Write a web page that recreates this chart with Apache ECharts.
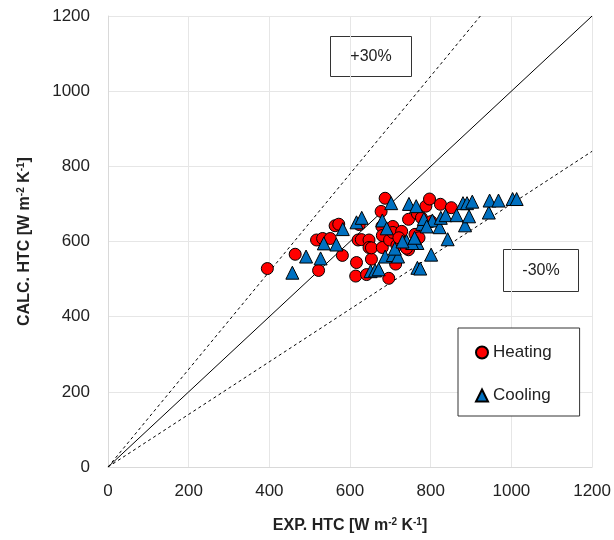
<!DOCTYPE html>
<html><head><meta charset="utf-8">
<script src="https://cdn.jsdelivr.net/npm/echarts@6/dist/echarts.min.js"></script>
<style>html,body{margin:0;padding:0;background:#fff}#c{width:614px;height:540px}</style>
</head><body><div id="c"></div>
<script>
const heatingX = [395,464,522,517,532,551,563,572,581,616,614,623,620,628,647,641,653,647,653,677,687,679,680,680,696,698,706,706,713,716,728,721,745,745,740,761,767,777,788,797,801,824,851,771];
const heatingY = [528,566,523,604,608,608,642,646,563,544,508,645,604,605,604,512,553,584,583,680,715,640,616,584,502,604,640,624,540,590,627,610,659,578,582,619,674,663,694,713,653,699,690,610];
const coolingX = [457,491,527,535,566,582,616,629,651,662,671,680,687,702,706,719,740,746,767,767,774,779,783,801,804,822,825,837,842,864,880,885,890,895,903,944,946,968,1003,1013,711,754,764,691,730,760,790];
const coolingY = [517,560,555,595,592,633,651,663,521,523,526,656,560,702,564,560,601,700,596,530,528,647,660,565,656,638,663,670,606,670,702,643,702,667,706,677,709,709,713,713,581,596,694,635,600,610,640];
const axisMin = 0, axisMax = 1200, axisStep = 200;
const refFactors = [1.0, 1.3, 0.7];
const seriesNames = ['Heating', 'Cooling'];
const xTitle = 'EXP. HTC [W m{s|-2} K{s|-1}]';
const yTitle = 'CALC. HTC [W m{s|-2} K{s|-1}]';

function refLine(f){
  const xe = Math.min(axisMax, axisMax / f);
  return [[0,0],[xe, xe*f]];
}
const font = 'Liberation Sans, Arial, sans-serif';
const chart = echarts.init(document.getElementById('c'));
chart.setOption({
  animation:false,
  textStyle:{fontFamily:font},
  grid:{left:108, right:20, top:16, bottom:73, containLabel:false},
  xAxis:{type:'value', min:axisMin, max:axisMax, interval:axisStep,
    axisLine:{show:true, lineStyle:{color:'#d9d9d9'}}, axisTick:{show:false},
    splitLine:{show:true, lineStyle:{color:'#e6e6e6', width:1}},
    axisLabel:{color:'#222', fontSize:17, fontFamily:font, margin:16, formatter:v=>String(v)},
    name:xTitle, nameLocation:'middle', nameGap:50,
    nameTextStyle:{color:'#222', fontSize:16, fontWeight:'bold', fontFamily:font,
      rich:{s:{fontSize:10, fontWeight:'bold', verticalAlign:'top', padding:[0,0,8,0], fontFamily:font}}}
  },
  yAxis:{type:'value', min:axisMin, max:axisMax, interval:axisStep,
    axisLine:{show:true, lineStyle:{color:'#d9d9d9'}}, axisTick:{show:false},
    splitLine:{show:true, lineStyle:{color:'#e6e6e6', width:1}},
    axisLabel:{color:'#222', fontSize:17, fontFamily:font, margin:18, formatter:v=>String(v)},
    name:yTitle, nameLocation:'middle', nameGap:74, nameRotate:90,
    nameTextStyle:{color:'#222', fontSize:16, fontWeight:'bold', fontFamily:font,
      rich:{s:{fontSize:10, fontWeight:'bold', verticalAlign:'top', padding:[0,0,8,0], fontFamily:font}}}
  },
  legend:{orient:'vertical', left:458, top:328, data:seriesNames,
    borderColor:'#333', borderWidth:1, padding:[16,28,12,17], itemGap:26,
    itemWidth:12, itemHeight:12, backgroundColor:'#fff',
    textStyle:{fontSize:17, color:'#222', fontFamily:font, padding:[0,0,0,0]}},
  graphic:[
    {type:'group', left:330, top:36, children:[
      {type:'rect', shape:{x:0,y:0,width:81,height:40}, style:{fill:'#fff', stroke:'#333', lineWidth:1}},
      {type:'text', style:{text:'+30%', x:40.5, y:20, textAlign:'center', textVerticalAlign:'middle', font:'16px '+font, fill:'#222'}}
    ]},
    {type:'group', left:503, top:249, children:[
      {type:'rect', shape:{x:0,y:0,width:75,height:42}, style:{fill:'#fff', stroke:'#333', lineWidth:1}},
      {type:'text', style:{text:'-30%', x:37.5, y:21, textAlign:'center', textVerticalAlign:'middle', font:'16px '+font, fill:'#222'}}
    ]}
  ],
  series:[
    {type:'line', data:refLine(refFactors[0]), symbol:'none', silent:true, lineStyle:{color:'#000', width:1}, z:1},
    {type:'line', data:refLine(refFactors[1]), symbol:'none', silent:true, lineStyle:{color:'#000', width:1, type:[3,3]}, z:1},
    {type:'line', data:refLine(refFactors[2]), symbol:'none', silent:true, lineStyle:{color:'#000', width:1, type:[3,3]}, z:1},
    {name:seriesNames[0], type:'scatter', data:heatingX.map((x,i)=>[x,heatingY[i]]),
      symbol:'circle', symbolSize:12, itemStyle:{color:'#ff0000', borderColor:'#000', borderWidth:1, opacity:1}, z:3},
    {name:seriesNames[1], type:'scatter', data:coolingX.map((x,i)=>[x,coolingY[i]]),
      symbol:'triangle', symbolSize:13, itemStyle:{color:'#0070c0', borderColor:'#000', borderWidth:1, opacity:1}, z:4}
  ]
});
</script></body></html>
